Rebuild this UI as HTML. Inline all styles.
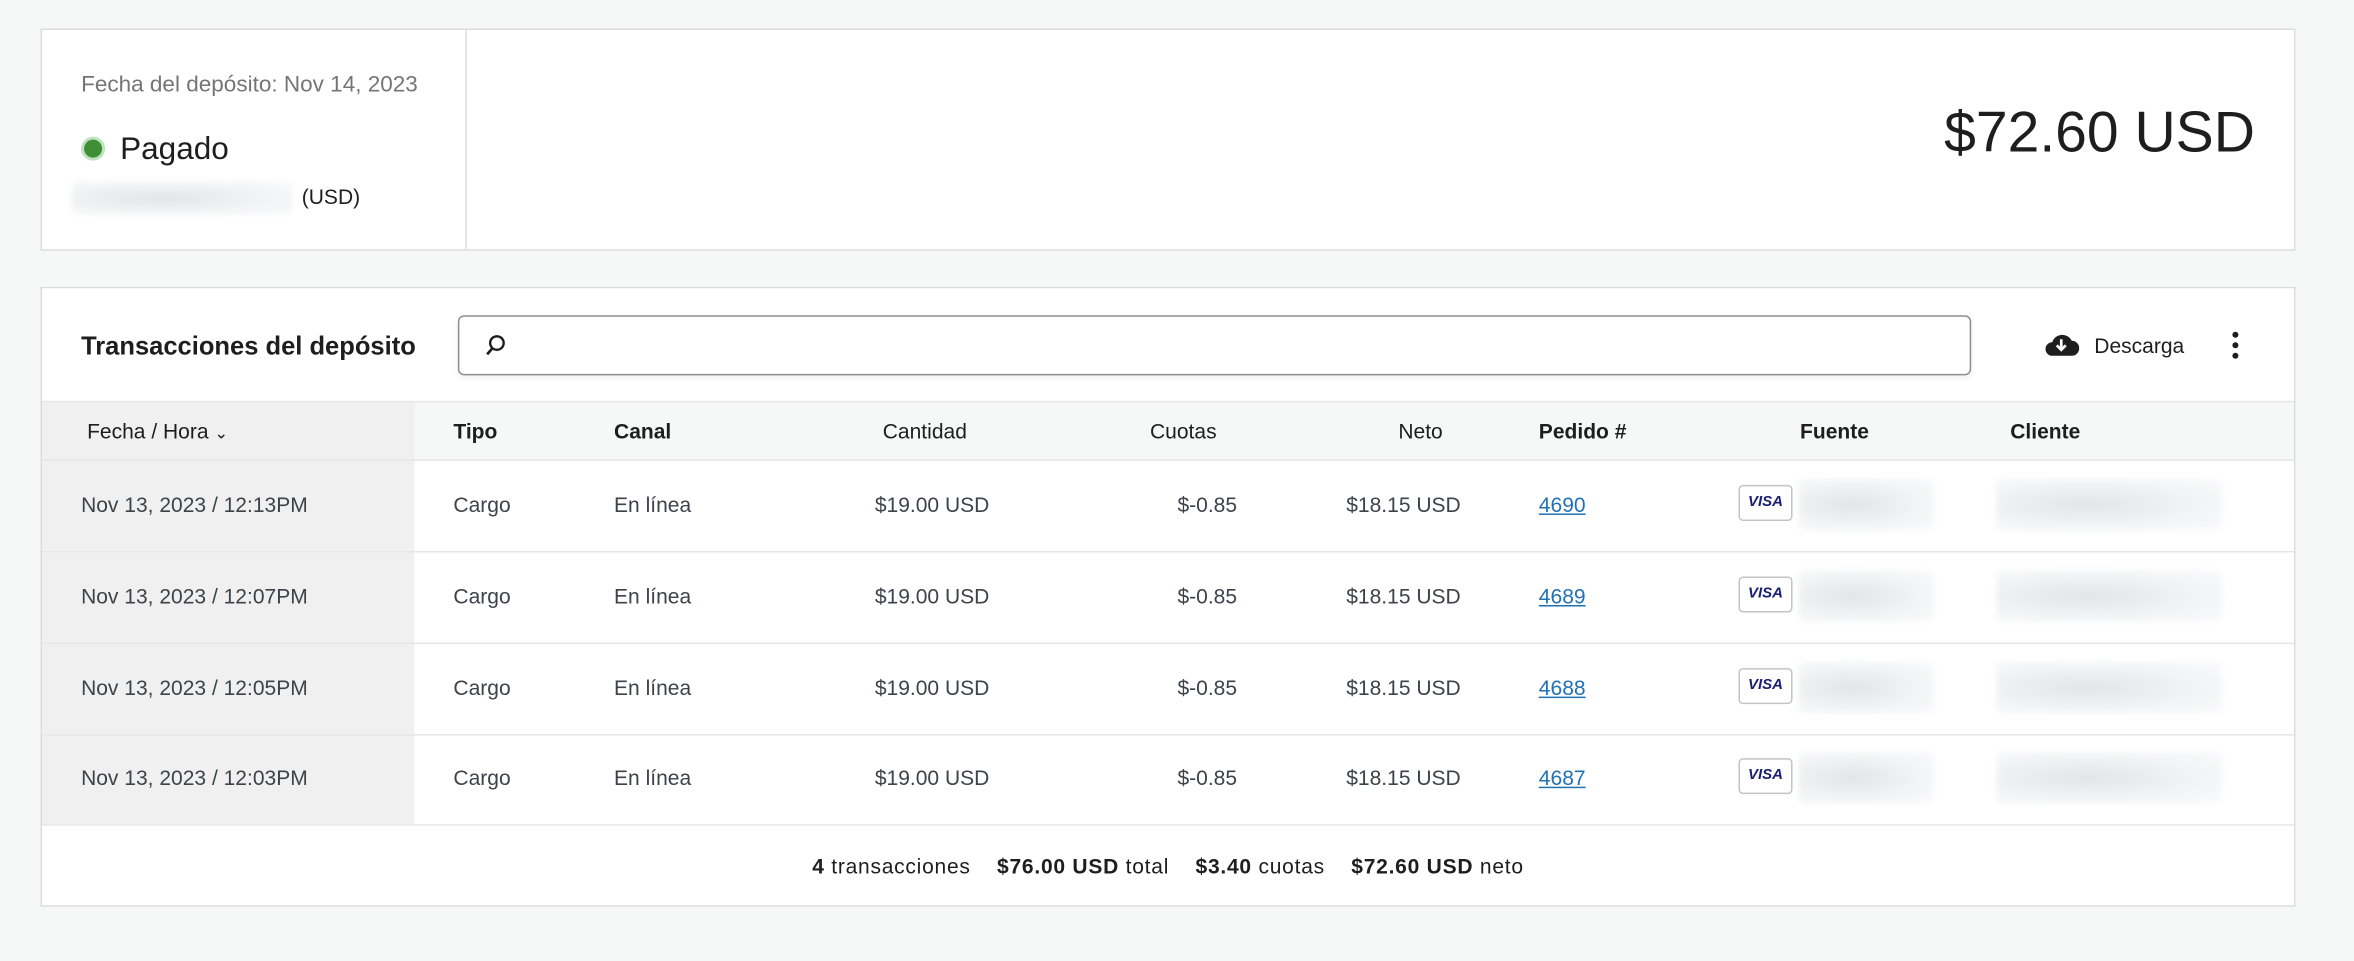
<!DOCTYPE html>
<html><head><meta charset="utf-8"><style>
html,body{margin:0;padding:0;width:2354px;height:960px;overflow:hidden;background:#f6f7f7}
#w{position:absolute;left:0;top:0;width:1568px;height:640px;transform:scale(1.50128);transform-origin:0 0;font-family:"Liberation Sans",sans-serif;color:#1e1e1e}
.a{position:absolute;white-space:nowrap}
.card{position:absolute;background:#fff;border:1px solid #dcdcde;box-sizing:border-box}
.t{font-size:14px;color:#3c434a;transform:translateY(-50%)}
.r{text-align:right}
.h{font-size:14px;font-weight:bold;color:#1e1e1e;transform:translateY(-50%)}
.blur{position:absolute;background:radial-gradient(ellipse at 40% 50%,#e3e4e8,#f3f4f6 60%,#fafafb);border-radius:4px;filter:blur(2px)}
.visa{position:absolute;width:34px;height:22px;border:1px solid #c3c4c7;border-radius:3px;background:#fff;font:italic bold 10px "Liberation Sans",sans-serif;color:#1a1f71;text-align:center;line-height:22px}
.ln{position:absolute;left:28px;width:1500px;height:1px;background:#e6e6e8}
a{color:#2271b1;text-decoration:underline}
</style></head><body><div id="w">
<div class="card" style="left:27px;top:19px;width:1502px;height:148px"></div>
<div class="a" style="left:310px;top:20px;width:1px;height:146px;background:#e0e0e0"></div>
<div class="a" style="left:54px;top:48px;font-size:15px;color:#757575">Fecha del depósito: Nov 14, 2023</div>
<div class="a" style="left:54px;top:91px;width:12px;height:12px;border-radius:50%;background:#3f8f37;border:2px solid #bfe3c0"></div>
<div class="a" style="left:80px;top:88px;font-size:21px;color:#1e1e1e">Pagado</div>
<div class="blur" style="left:48px;top:121px;width:147px;height:22px"></div>
<div class="a" style="left:201px;top:123px;font-size:14px">(USD)</div>
<div class="a" style="right:66px;top:68px;font-size:38px;color:#1e1e1e">$72.60 USD</div>

<div class="card" style="left:27px;top:191px;width:1502px;height:413px"></div>
<div class="a" style="left:54px;top:221px;font-size:17px;font-weight:bold">Transacciones del depósito</div>
<div class="a" style="left:305px;top:210px;width:1008px;height:40px;border:1px solid #8c8f94;border-radius:4px;box-sizing:border-box;box-shadow:0 2px 4px rgba(0,0,0,.06);background:#fff"></div>
<svg class="a" style="left:322px;top:222px" width="16" height="16" viewBox="0 0 16 16"><circle cx="9" cy="6.5" r="4.5" fill="none" stroke="#1e1e1e" stroke-width="1.6"/><line x1="6" y1="10" x2="2.5" y2="14" stroke="#1e1e1e" stroke-width="1.8"/></svg>
<svg class="a" style="left:1361px;top:219px" width="24" height="20" viewBox="0 0 24 20"><path d="M6 18h13a5 5 0 0 0 0-10 7 7 0 0 0-13 1 4.5 4.5 0 0 0 0 9z" fill="#1e1e1e"/><path d="M12 7v7M9 11l3 3 3-3" stroke="#fff" stroke-width="1.8" fill="none"/></svg>
<div class="a" style="left:1395px;top:222px;font-size:14px">Descarga</div>
<div class="a" style="left:1487px;top:221px;width:4px;height:4px;border-radius:50%;background:#1e1e1e;box-shadow:0 7px 0 #1e1e1e,0 14px 0 #1e1e1e"></div>

<div class="a" style="left:28px;top:267px;width:1500px;height:39px;background:#f6f7f7;border-top:1px solid #e6e6e8"></div>
<div class="a" style="left:28px;top:268px;width:248px;height:281px;background:#f0f0f0"></div>
<div class="ln" style="top:306px"></div><div class="ln" style="top:367px"></div><div class="ln" style="top:428px"></div><div class="ln" style="top:489px"></div><div class="ln" style="top:549px"></div>

<div class="a t" style="left:58px;top:287px;color:#1e1e1e">Fecha / Hora <span style="font-size:11px">&#8964;</span></div>
<div class="a h" style="left:302px;top:287px">Tipo</div>
<div class="a h" style="left:409px;top:287px">Canal</div>
<div class="a t" style="left:588px;top:287px;color:#1e1e1e">Cantidad</div>
<div class="a t" style="left:766px;top:287px;color:#1e1e1e">Cuotas</div>
<div class="a t r" style="right:607px;top:287px;color:#1e1e1e">Neto</div>
<div class="a h" style="left:1025px;top:287px">Pedido #</div>
<div class="a h" style="left:1199px;top:287px">Fuente</div>
<div class="a h" style="left:1339px;top:287px">Cliente</div>

<div id="rows"></div>
<script>
var d=[["12:13PM","4690",336],["12:07PM","4689",397],["12:05PM","4688",458],["12:03PM","4687",518]],h="";
d.forEach(function(r){var y=r[2];
h+='<div class="a t" style="left:54px;top:'+y+'px">Nov 13, 2023 / '+r[0]+'</div>'+
'<div class="a t" style="left:302px;top:'+y+'px">Cargo</div>'+
'<div class="a t" style="left:409px;top:'+y+'px">En línea</div>'+
'<div class="a t r" style="right:909px;top:'+y+'px">$19.00 USD</div>'+
'<div class="a t r" style="right:744px;top:'+y+'px">$-0.85</div>'+
'<div class="a t r" style="right:595px;top:'+y+'px">$18.15 USD</div>'+
'<div class="a t" style="left:1025px;top:'+y+'px"><a>'+r[1]+'</a></div>'+
'<div class="visa" style="left:1158px;top:'+(y-13)+'px">VISA</div>'+
'<div class="blur" style="left:1198px;top:'+(y-17)+'px;width:90px;height:34px"></div>'+
'<div class="blur" style="left:1330px;top:'+(y-17)+'px;width:150px;height:34px"></div>';});
document.getElementById('rows').innerHTML=h;
</script>
<div class="a" style="left:0;width:1556px;text-align:center;top:569px;font-size:14px;letter-spacing:0.5px;color:#1e1e1e"><b>4</b> transacciones &nbsp;&nbsp; <b>$76.00 USD</b> total &nbsp;&nbsp; <b>$3.40</b> cuotas &nbsp;&nbsp; <b>$72.60 USD</b> neto</div>
</div></body></html>
